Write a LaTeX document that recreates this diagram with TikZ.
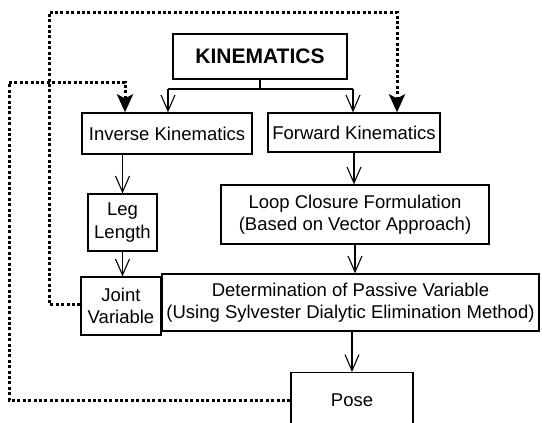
\documentclass[tikz,border=0pt]{standalone}
\usepackage{fontspec}
\setmainfont{Liberation Sans}
\usetikzlibrary{arrows.meta}
\begin{document}
\begin{tikzpicture}[x=1pt,y=-1pt,
  box/.style={draw,line width=1.3pt,fill=white,inner sep=0pt,align=center,
    font=\fontsize{18.5}{22.5}\selectfont},
  flow/.style={line width=1.1pt,-{Straight Barb[length=16pt,width=14pt,line width=1.1pt]}},
  link/.style={line width=1.1pt},
  fb/.style={line width=3pt,dash pattern=on 3pt off 2.4pt,
    -{Stealth[length=18pt,width=16pt,inset=4pt]}}]
\useasboundingbox (0,0) rectangle (542,423);
\clip (0,0) rectangle (542,423);

% boxes
\node[box,minimum width=174pt,minimum height=45pt,font=\bfseries\fontsize{21}{24}\selectfont]
  (kin) at (260,56.5) {KINEMATICS};
\node[box,minimum width=170pt,minimum height=41pt] (ik) at (167,133.5) {Inverse Kinematics};
\node[box,minimum width=172pt,minimum height=39pt] (fk) at (354,132.5) {Forward Kinematics};
\node[box,minimum width=69pt,minimum height=57pt] (leg) at (122.5,222.5) {Leg\\Length};
\node[box,minimum width=268pt,minimum height=59pt] (loop) at (355,214.5)
  {Loop Closure Formulation\\(Based on Vector Approach)};
\node[box,minimum width=80pt,minimum height=58pt] (joint) at (121,306) {Joint\\Variable};
\node[box,minimum width=377pt,minimum height=57pt] (det) at (350.5,302.5)
  {Determination of Passive Variable\\(Using Sylvester Dialytic Elimination Method)};
\node[box,anchor=north,minimum width=122pt,minimum height=56pt] (pose) at (352,372) {Pose};

% branch from the top box
\coordinate (bus) at (260,89);
\coordinate (busl) at (168,89);
\coordinate (busr) at (353,89);
\draw[link] (kin.south) -- (bus);
\draw[link] (busl) -- (busr);
\draw[flow] (busl) -- (busl |- ik.north);
\draw[flow] (busr) -- (busr |- fk.north);

% main flow
\draw[flow] (ik.south -| leg.north) -- (leg.north);
\draw[flow] (leg.south) -- (leg.south |- joint.north);
\draw[flow] (fk.south) -- (fk.south |- loop.north);
\draw[flow] (loop.south) -- (loop.south |- det.north);
\draw[flow] (det.south -| pose.north) -- (pose.north);

% feedback loops
\coordinate (ja) at (49,304);
\coordinate (jb) at (49,12);
\coordinate (jc) at (397,12);
\draw[fb] (ja -| joint.west) -- (ja) -- (jb) -- (jc) -- (jc |- fk.north);
\coordinate (pa) at (9,400);
\coordinate (pb) at (9,82);
\coordinate (pc) at (125,82);
\draw[fb] (pa -| pose.west) -- (pa) -- (pb) -- (pc) -- (pc |- ik.north);
\end{tikzpicture}
\end{document}
